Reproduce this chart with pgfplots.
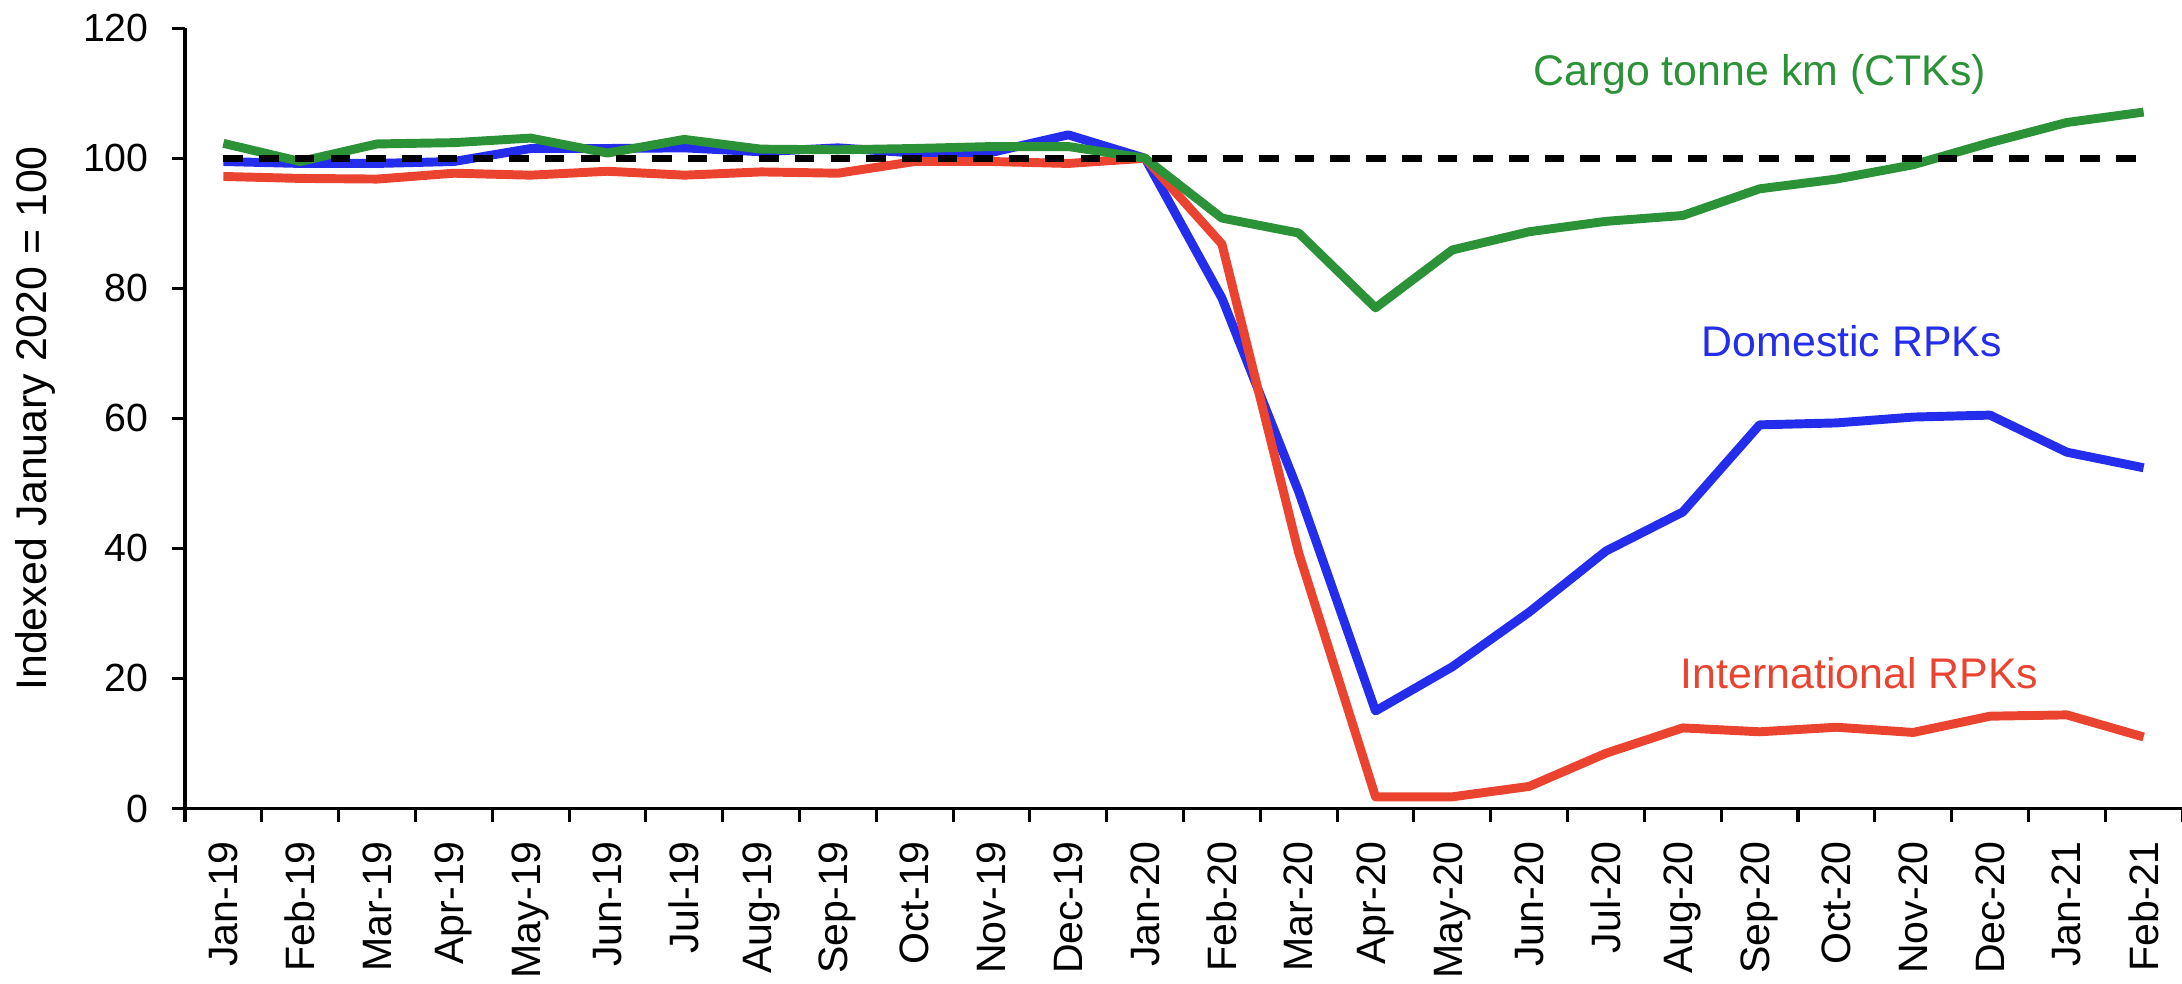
\documentclass[border=0pt]{standalone}
\usepackage{fontspec}
\setmainfont{Liberation Sans}
\usepackage{pgfplots}
\usepackage{pgfplotstable}
\pgfplotsset{compat=1.18}
\usetikzlibrary{calc}
\definecolor{cgreen}{RGB}{44,146,56}
\definecolor{cblue}{RGB}{35,45,235}
\definecolor{cred}{RGB}{234,68,48}

\pgfplotstableread{
i dom intl cargo base
0 99.5 97.2 102.3 100
1 99.2 96.9 99.5 100
2 99.2 96.8 102.2 100
3 99.5 97.7 102.4 100
4 101.5 97.4 103.1 100
5 101.5 98.0 100.8 100
6 101.6 97.4 102.9 100
7 101.0 97.9 101.4 100
8 101.6 97.7 101.3 100
9 100.8 99.5 101.5 100
10 100.9 99.5 101.8 100
11 103.6 99.2 101.8 100
12 100.0 100.0 100.0 100
13 78.5 86.8 90.8 100
14 48.7 39.3 88.5 100
15 15.0 1.8 77.0 100
16 21.8 1.8 85.9 100
17 30.2 3.4 88.7 100
18 39.6 8.5 90.3 100
19 45.6 12.4 91.2 100
20 59.0 11.8 95.3 100
21 59.3 12.5 96.8 100
22 60.2 11.7 99.0 100
23 60.5 14.2 102.4 100
24 54.8 14.4 105.5 100
25 52.4 11.0 107.1 100
}\data

\begin{document}
\begin{tikzpicture}
\begin{axis}[
  name=ax,
  width=559.2pt, height=218.5pt, scale only axis,
  xmin=-0.5, xmax=25.5, ymin=0, ymax=120,
  axis x line*=bottom, axis y line*=left,
  xtick={0,...,25},
  xticklabels={Jan-19,Feb-19,Mar-19,Apr-19,May-19,Jun-19,Jul-19,Aug-19,Sep-19,Oct-19,Nov-19,Dec-19,Jan-20,Feb-20,Mar-20,Apr-20,May-20,Jun-20,Jul-20,Aug-20,Sep-20,Oct-20,Nov-20,Dec-20,Jan-21,Feb-21},
  major x tick style={draw=none},
  minor xtick={-0.5,0.5,...,25.5},
  ytick={0,20,...,120},
  tick align=outside,
  major tick length=3.64pt, minor tick length=3.64pt,
  tick style={line width=0.85pt, black},
  axis line style={line width=0.85pt, black},
  /pgf/number format/assume math mode=true,
  x tick label style={rotate=90, anchor=east, font=\fontsize{11.5}{13}\selectfont},
  y tick label style={font=\fontsize{11}{13}\selectfont},
  xticklabel shift=2pt,
  yticklabel shift=3pt,
  ylabel={Indexed January 2020 = 100},
  ylabel style={font=\fontsize{12}{14}\selectfont},
  ylabel shift=1pt,
  clip=false,
]
\addplot[cblue, line width=2.5pt, line join=round] table[x=i, y=dom] {\data};
\addplot[cred, line width=2.5pt, line join=round] table[x=i, y=intl] {\data};
\addplot[cgreen, line width=2.5pt, line join=round] table[x=i, y=cargo] {\data};
\addplot[black, line width=2pt, dash pattern=on 5.5pt off 4.5pt] table[x=i, y=base] {\data};
\node[anchor=base, text=cgreen, font=\fontsize{12}{14}\selectfont] at (axis cs:20.0,111.2) {Cargo tonne km (CTKs)};
\node[anchor=base, text=cblue, font=\fontsize{12}{14}\selectfont] at (axis cs:21.2,69.5) {Domestic RPKs};
\node[anchor=base, text=cred, font=\fontsize{12}{14}\selectfont] at (axis cs:21.3,18.4) {International RPKs};
\end{axis}
\pgfresetboundingbox
\path[use as bounding box] ($(ax.south west)+(-51.8pt,-48.86pt)$) rectangle ($(ax.north east)+(0pt,7.9pt)$);
\end{tikzpicture}
\end{document}
